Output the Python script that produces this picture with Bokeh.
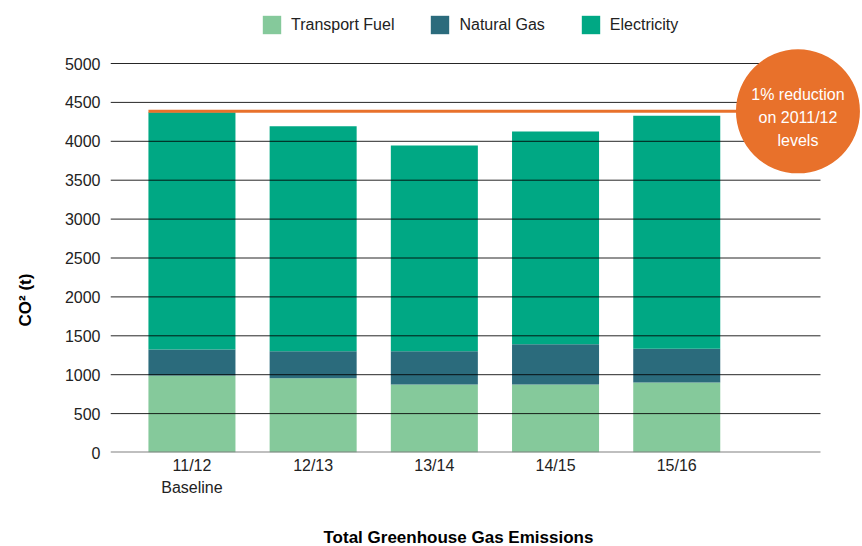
from bokeh.plotting import figure
from bokeh.models import FixedTicker, Label, Range1d, ColumnDataSource, Title
from bokeh.embed import file_html
from bokeh.resources import INLINE

# ---- data ----
categories = ["11/12\nBaseline", "12/13", "13/14", "14/15", "15/16"]
series = ["Transport Fuel", "Natural Gas", "Electricity"]
transport_fuel = [990, 955, 875, 875, 900]
natural_gas = [335, 345, 425, 515, 435]
electricity = [3050, 2895, 2645, 2735, 2995]
target_value = 4385
target_text = "1% reduction\non 2011/12\nlevels"
y_ticks = [0, 500, 1000, 1500, 2000, 2500, 3000, 3500, 4000, 4500, 5000]
x_title = "Total Greenhouse Gas Emissions"
y_title = "CO\u00b2 (t)"

# ---- styles ----
colors = ["#85C99B", "#2B6B7C", "#00A884"]
ORANGE = "#E8712B"
FONT = "Liberation Sans"
TXT = "#222222"

W, H = 862, 546
ML, MR, MT, MB = 110, 0, 0, 94
FRAME_W = W - ML - MR
FRAME_H = H - MT - MB
TOP_TICK_PX = 63          # pixel row of the top tick inside the frame
PX_PER_X = 121.2
X0 = -0.672
X1 = X0 + FRAME_W / PX_PER_X
GRID_END = 5.186
Y0 = 0
Y1 = y_ticks[-1] * FRAME_H / (FRAME_H - TOP_TICK_PX)
BAR_W = 0.718

xs = list(range(len(categories)))
src = ColumnDataSource(dict(x=xs, **{
    series[0]: transport_fuel, series[1]: natural_gas, series[2]: electricity}))

p = figure(width=W, height=H, output_backend="svg", toolbar_location=None,
           title=None, x_range=Range1d(X0, X1), y_range=Range1d(Y0, Y1),
           min_border_left=ML, min_border_right=MR, min_border_top=MT,
           min_border_bottom=MB)
p.outline_line_color = None
p.background_fill_color = "white"
p.xgrid.visible = False
p.ygrid.visible = False

p.vbar_stack(series, x="x", width=BAR_W, color=colors, line_color=None,
             source=src, legend_label=series)

# horizontal gridlines (drawn over the bars, ending before the badge area)
gy = y_ticks[1:]
p.segment(x0=[X0] * len(gy), x1=[GRID_END] * len(gy), y0=gy, y1=gy,
          line_color="black", line_alpha=0.85, line_width=1)
# x baseline
p.segment(x0=[X0], x1=[GRID_END], y0=[y_ticks[0]], y1=[y_ticks[0]],
          line_color="#808080", line_width=2)

# target line from first bar to the badge centre
cx = len(categories)
p.segment(x0=[xs[0] - BAR_W / 2], x1=[cx], y0=[target_value],
          y1=[target_value], line_color=ORANGE, line_width=3)

# badge circle
R = 62
p.scatter(x=[cx], y=[target_value], marker="circle", size=2 * R,
          fill_color=ORANGE, line_color=None)
lab = Label(x=cx, y=target_value, text=target_text, text_align="center",
            text_baseline="middle", text_color="white", text_font=FONT,
            text_font_size="16px", text_line_height=1.37, y_offset=-6)
p.add_layout(lab)

# axes
xa = p.xaxis[0]
xa.ticker = FixedTicker(ticks=xs)
xa.major_label_overrides = {i: c for i, c in enumerate(categories)}
xa.major_tick_line_color = None
xa.major_tick_out = 0
xa.major_tick_in = 0
xa.minor_tick_line_color = None
xa.axis_line_color = None
xa.major_label_text_font = FONT
xa.major_label_text_font_size = "16px"
xa.major_label_text_line_height = 1.3
xa.major_label_text_color = TXT
xa.major_label_standoff = 4

ya = p.yaxis[0]
ya.ticker = FixedTicker(ticks=y_ticks)
ya.axis_line_color = None
ya.major_tick_line_color = None
ya.major_tick_out = 0
ya.major_tick_in = 0
ya.minor_tick_line_color = None
ya.major_label_text_font = FONT
ya.major_label_text_font_size = "16px"
ya.major_label_text_color = TXT
ya.major_label_standoff = 10

# spacers between the axes and their titles
p.add_layout(Title(text=" ", text_font_size="2px", standoff=23), "below")
xt = Title(text=x_title, align="left", offset=213, standoff=0,
           text_font=FONT, text_font_style="bold", text_font_size="17px",
           text_color="black")
p.add_layout(xt, "below")
p.add_layout(Title(text=" ", text_font_size="2px", standoff=23), "left")
yt = Title(text=y_title, align="left", offset=126, standoff=0,
           text_font=FONT, text_font_style="bold", text_font_size="17px",
           text_color="black")
p.add_layout(yt, "left")

leg = p.legend[0]
leg.orientation = "horizontal"
leg.location = (150, FRAME_H - 36)
leg.margin = 0
leg.padding = 0
leg.spacing = 34
leg.glyph_width = 23
leg.glyph_height = 23
leg.label_standoff = 8
leg.label_text_font = FONT
leg.label_text_font_size = "16px"
leg.label_text_color = TXT
leg.border_line_color = None
leg.background_fill_alpha = 0

open("out.html", "w").write(file_html(p, INLINE))
